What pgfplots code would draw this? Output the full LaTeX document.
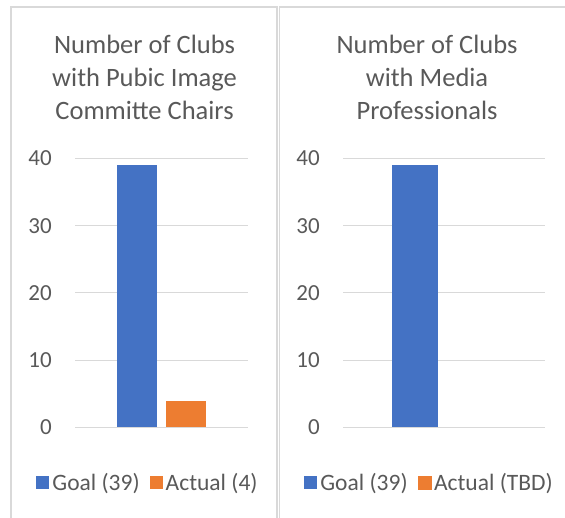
\documentclass[border=0pt]{standalone}
\usepackage{pgfplots}
\pgfplotsset{compat=1.18}
\usepackage{fontspec}
\setmainfont{Carlito}
\definecolor{gblue}{HTML}{4472C4}
\definecolor{gorange}{HTML}{ED7D31}
\definecolor{gridgray}{HTML}{D9D9D9}
\definecolor{txtgray}{HTML}{595959}
\pgfplotsset{
  panel/.style={
    scale only axis,
    anchor=south west,
    ymin=0, ymax=40,
    xmin=-0.5, xmax=0.5,
    ytick={0,10,20,30,40},
    xtick=\empty,
    axis line style={draw=none},
    tick style={draw=none},
    ymajorgrids,
    grid style={draw=gridgray, line width=1pt},
    /pgf/number format/assume math mode=true,
    yticklabel style={font=\fontsize{23}{27}\selectfont, text=txtgray, anchor=east, inner sep=0pt, xshift=-23pt},
    title style={anchor=center, align=center, font=\fontsize{26.5}{33}\selectfont, text=txtgray},
    legend columns=2,
    legend cell align=left,
    legend image code/.code={\fill[#1] (0pt,-6.5pt) rectangle (13pt,6.5pt);},
    legend style={draw=none, fill=none, anchor=center, inner sep=0pt,
      font=\fontsize{23.5}{27}\selectfont, text=txtgray,
      nodes={inner xsep=3pt, inner ysep=0pt},
      /tikz/every even column/.append style={column sep=7pt}},
  }
}
\begin{document}
\begin{tikzpicture}
\path[use as bounding box] (0pt,0pt) rectangle (565pt,518pt);
\draw[gridgray, line width=1.5pt] (11pt,-3pt) -- (11pt,511pt) -- (277pt,511pt) -- (277pt,-3pt);
\draw[gridgray, line width=1.5pt] (279.5pt,-3pt) -- (279.5pt,511pt) -- (570pt,511pt);

\begin{axis}[panel,
  at={(75pt,90.5pt)}, width=173pt, height=269pt,
  title={Number of Clubs\\with Pubic Image\\Committe Chairs},
  title style={at={(0.402,1.28)}},
  legend style={at={(0.425,-0.206)}},
]
\addplot[ybar, fill=gblue, draw=none, bar width=0.231, bar shift=-0.1416] coordinates {(0,39)};
\addlegendentry{Goal (39)}
\addplot[ybar, fill=gorange, draw=none, bar width=0.231, bar shift=0.139] coordinates {(0,4)};
\addlegendentry{Actual (4)}
\end{axis}

\begin{axis}[panel,
  at={(343pt,90.5pt)}, width=202pt, height=269pt,
  title={Number of Clubs\\with Media\\Professionals},
  title style={at={(0.416,1.28)}},
  legend style={at={(0.431,-0.206)}},
]
\addplot[ybar, fill=gblue, draw=none, bar width=0.228, bar shift=-0.1436] coordinates {(0,39)};
\addlegendentry{Goal (39)}
\addlegendimage{gorange, fill=gorange}
\addlegendentry{Actual (TBD)}
\end{axis}
\end{tikzpicture}
\end{document}
